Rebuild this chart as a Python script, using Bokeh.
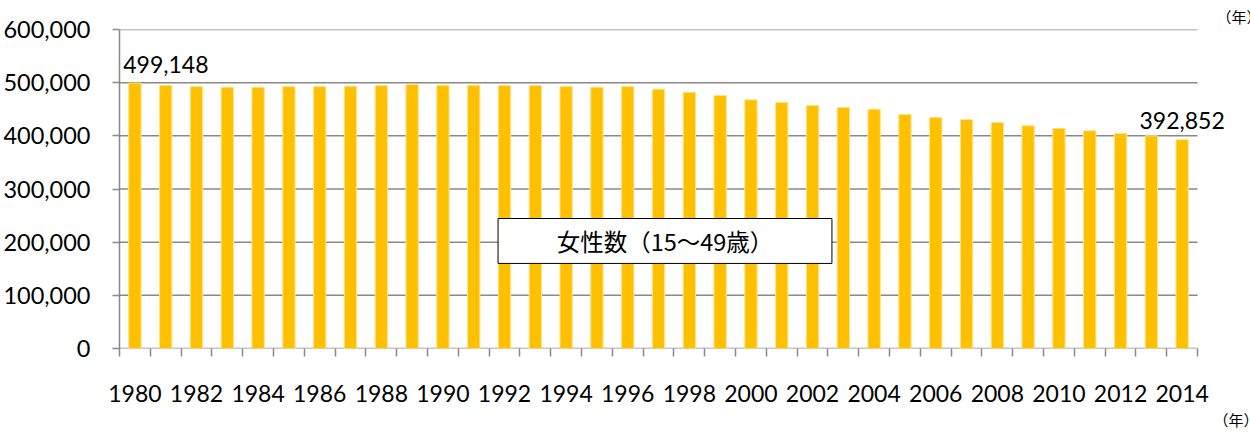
from bokeh.plotting import figure
from bokeh.models import (Range1d, FixedTicker, NumeralTickFormatter, ColumnDataSource,
                          Label, BoxAnnotation, Title)
from bokeh.embed import file_html
from bokeh.resources import INLINE

years = list(range(1980, 2015))
women = [499148, 494600, 492700, 491500, 491500, 492700, 492700, 493300, 494600, 496500,
         495200, 495200, 494600, 494600, 492700, 491500, 492700, 487700, 482000, 475800,
         467700, 462700, 457000, 453300, 450100, 440100, 434400, 430700, 425000, 418800,
         413800, 409400, 404400, 400000, 392852]
y_ticks = [0, 100000, 200000, 300000, 400000, 500000, 600000]
x_label_years = years[::2]
series_name = "女性数（15～49歳）"
unit_label = "（年）"

FONT = "Lato"
JP = "Noto Sans CJK JP"
GRAY = "#898989"

W, H = 1250, 433
BL, BT, BB = 118, 29, 85
x0, x1 = years[0] - 0.5, years[-1] + 0.5
# frame reaches the right edge of the canvas so the end label is not clipped
x_end = x1 + 53 / ((W - BL - 53) / (x1 - x0))

p = figure(width=W, height=H, output_backend="svg", toolbar_location=None,
           x_range=Range1d(x0, x_end),
           y_range=Range1d(y_ticks[0], y_ticks[-1]),
           min_border_left=BL, min_border_right=0, min_border_top=BT, min_border_bottom=BB)
p.outline_line_color = None
p.background_fill_color = "white"
p.border_fill_color = "white"

# horizontal grid lines (and the x axis line) limited to the category span
p.segment(x0=[x0] * len(y_ticks), x1=[x1] * len(y_ticks), y0=y_ticks, y1=y_ticks,
          line_color=GRAY, line_width=1.5, level="underlay")

src = ColumnDataSource(dict(x=years, top=women))
p.vbar(x="x", top="top", width=0.4, source=src, fill_color="#FFC000",
       line_color="#FFE28A", line_width=1)

# x axis
xa = p.xaxis[0]
xa.ticker = FixedTicker(ticks=x_label_years,
                        minor_ticks=[y - 0.5 for y in years] + [years[-1] + 0.5])
xa.major_tick_line_color = None
xa.major_tick_out = 0
xa.major_tick_in = 0
xa.minor_tick_out = 8
xa.minor_tick_in = 0
xa.minor_tick_line_color = GRAY
xa.minor_tick_line_width = 1.5
xa.axis_line_color = None
xa.major_label_standoff = 28
xa.major_label_text_font = FONT
xa.major_label_text_font_size = "23px"
xa.major_label_text_color = "#000000"
p.xgrid.visible = False
p.ygrid.visible = False

# y axis
ya = p.yaxis[0]
ya.ticker = FixedTicker(ticks=y_ticks)
ya.formatter = NumeralTickFormatter(format="0,0")
ya.major_tick_out = 7
ya.major_tick_in = 0
ya.major_tick_line_color = GRAY
ya.major_tick_line_width = 1.5
ya.minor_tick_line_color = None
ya.axis_line_color = GRAY
ya.axis_line_width = 1.5
ya.major_label_standoff = 22
ya.major_label_text_font = FONT
ya.major_label_text_font_size = "23.5px"
ya.major_label_text_color = "#000000"

# data labels on first and last bar
for idx, dx in ((0, 31), (len(years) - 1, 0)):
    p.add_layout(Label(x=years[idx], y=women[idx], text=f"{women[idx]:,}",
                       x_offset=dx, y_offset=19, text_align="center",
                       text_baseline="alphabetic", text_font=FONT,
                       text_font_size="23px", text_color="#000000"))

# series name box
p.add_layout(BoxAnnotation(left=1991.79, right=2002.63, bottom=160000, top=244500,
                           fill_color="white", fill_alpha=1, line_color="#000000",
                           line_alpha=1, line_width=1))
p.add_layout(Label(x=(1991.79 + 2002.63) / 2, y=202250, text=series_name,
                   text_align="center", text_baseline="middle", text_font=JP,
                   text_font_size="23.5px", text_color="#000000"))

# unit labels as titles in the side panels (not clipped by the frame)
p.add_layout(Title(text=unit_label, align="left", offset=1097, text_font=JP,
                   text_font_size="15px", text_font_style="normal",
                   text_color="#000000", standoff=5), "above")
p.add_layout(Title(text=unit_label, align="left", offset=1094, text_font=JP,
                   text_font_size="15px", text_font_style="normal",
                   text_color="#000000", standoff=5), "below")

open("out.html", "w").write(file_html(p, INLINE))
